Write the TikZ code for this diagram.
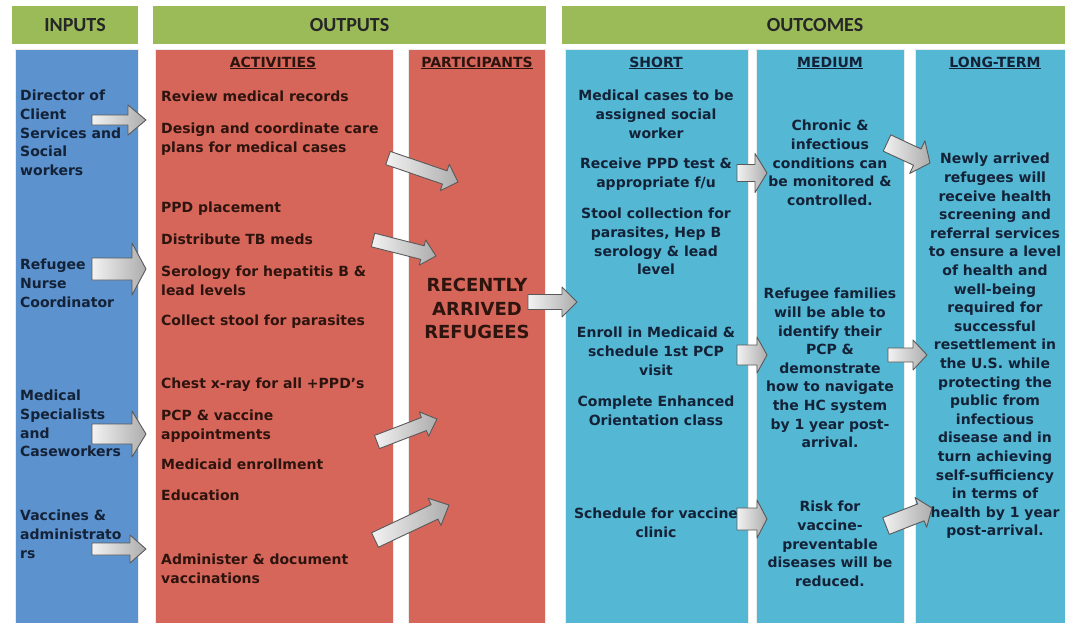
\documentclass[tikz,border=0pt]{standalone}
\usepackage{fontspec}
\setmainfont{DejaVu Sans}
\newfontfamily\hdfont{Carlito}
\usetikzlibrary{calc}

\definecolor{hdgreen}{RGB}{155,187,89}
\definecolor{inblue}{RGB}{92,146,206}
\definecolor{actred}{RGB}{214,102,90}
\definecolor{ocyan}{RGB}{84,183,211}
\definecolor{txtblue}{RGB}{20,34,56}
\definecolor{txtbrown}{RGB}{46,20,14}

% block arrow: tail, tip, shaft half width, head half width, head length
\newcommand{\blockarr}[5]{%
  \coordinate (hb) at ($(#2)!#5!(#1)$);
  \draw[barr] ($(#1)!#3!90:(#2)$) -- ($(hb)!#3!90:(#2)$) -- ($(hb)!#4!90:(#2)$) -- (#2)
    -- ($(hb)!#4!-90:(#2)$) -- ($(hb)!#3!-90:(#2)$) -- ($(#1)!#3!-90:(#2)$) -- cycle;
}

\begin{document}
\begin{tikzpicture}[x=1pt, y=-1pt,
  hdr/.style={fill=hdgreen, minimum height=38pt, inner sep=0pt,
    font=\hdfont\bfseries\fontsize{20}{24}\selectfont, text=black!85},
  colbox/.style={draw=black!8, line width=.8pt, anchor=north west, inner sep=0pt, minimum height=590pt},
  lbl/.style={font=\bfseries\fontsize{14}{18.6}\selectfont, inner sep=0pt},
  lt/.style={lbl, align=left, anchor=north west},
  ct/.style={lbl, align=center, anchor=north},
  barr/.style={draw=black!65, line width=.9pt, left color=gray!10, right color=gray!65, line join=round}]
\useasboundingbox (0,0) rectangle (1065,622);

% headers
\node[hdr, minimum width=126pt] (hin) at (75,25) {INPUTS};
\node[hdr, minimum width=393pt] (hout) at (349.5,25) {OUTPUTS};
\node[hdr, minimum width=506pt] (hoc) at (815,25) {OUTCOMES};

% columns
\node[colbox, fill=inblue, minimum width=123pt] (inputs) at (15,49) {};
\node[colbox, fill=actred, minimum width=238pt] (act) at (155,49) {};
\node[colbox, fill=actred, minimum width=137pt] (part) at (408,49) {};
\node[colbox, fill=ocyan, minimum width=183pt] (short) at (565,49) {};
\node[colbox, fill=ocyan, minimum width=148pt] (medium) at (756,49) {};
\node[colbox, fill=ocyan, minimum width=160pt] (long) at (915,49) {};

\node[lbl, text=txtbrown] (acth) at (273,63) {\underline{ACTIVITIES}};
\node[lbl, text=txtbrown] (parth) at (477,63) {\underline{PARTICIPANTS}};
\node[lbl, text=txtblue] (shorth) at (656,63) {\underline{SHORT}};
\node[lbl, text=txtblue] (medh) at (830,63) {\underline{MEDIUM}};
\node[lbl, text=txtblue] (longh) at (995,63) {\underline{LONG-TERM}};

% inputs
\node[lt, text=txtblue] (dir) at (20,90) {Director of\\Client\\Services and\\Social\\workers};
\node[lt, text=txtblue] (nurse) at (20,259) {Refugee\\Nurse\\Coordinator};
\node[lt, text=txtblue] (spec) at (20,390) {Medical\\Specialists\\and\\Caseworkers};
\node[lt, text=txtblue] (vacc) at (20,510) {Vaccines \&\\administrato\\rs};

% activities
\node[lt, text=txtbrown] (rev) at (161,91) {Review medical records};
\node[lt, text=txtbrown] (care) at (161,123) {Design and coordinate care\\plans for medical cases};
\node[lt, text=txtbrown] (ppd) at (161,202) {PPD placement};
\node[lt, text=txtbrown] (tb) at (161,234) {Distribute TB meds};
\node[lt, text=txtbrown] (sero) at (161,266) {Serology for hepatitis B \&\\lead levels};
\node[lt, text=txtbrown] (stool) at (161,315) {Collect stool for parasites};
\node[lt, text=txtbrown] (xray) at (161,378) {Chest x-ray for all +PPD's};
\node[lt, text=txtbrown] (pcp) at (161,410) {PCP \& vaccine\\appointments};
\node[lt, text=txtbrown] (mcd) at (161,459) {Medicaid enrollment};
\node[lt, text=txtbrown] (edu) at (161,490) {Education};
\node[lt, text=txtbrown] (adm) at (161,554) {Administer \& document\\vaccinations};

% participants
\node[lbl, align=center, anchor=north, text=txtbrown, font=\bfseries\fontsize{18}{23.5}\selectfont]
  (refs) at (477,278) {RECENTLY\\ARRIVED\\REFUGEES};

% short term
\node[ct, text=txtblue] (s1) at (656,90) {Medical cases to be\\assigned social\\worker};
\node[ct, text=txtblue] (s2) at (656,158) {Receive PPD test \&\\appropriate f/u};
\node[ct, text=txtblue] (s3) at (656,208) {Stool collection for\\parasites, Hep B\\serology \& lead\\level};
\node[ct, text=txtblue] (s4) at (656,327) {Enroll in Medicaid \&\\schedule 1st PCP\\visit};
\node[ct, text=txtblue] (s5) at (656,396) {Complete Enhanced\\Orientation class};
\node[ct, text=txtblue] (s6) at (656,508) {Schedule for vaccine\\clinic};

% medium term
\node[ct, text=txtblue] (m1) at (830,120) {Chronic \&\\infectious\\conditions can\\be monitored \&\\controlled.};
\node[ct, text=txtblue] (m2) at (830,288) {Refugee families\\will be able to\\identify their\\PCP \&\\demonstrate\\how to navigate\\the HC system\\by 1 year post-\\arrival.};
\node[ct, text=txtblue] (m3) at (830,501) {Risk for\\vaccine-\\preventable\\diseases will be\\reduced.};

% long term
\node[ct, text=txtblue] (l1) at (995,153) {Newly arrived\\refugees will\\receive health\\screening and\\referral services\\to ensure a level\\of health and\\well-being\\required for\\successful\\resettlement in\\the U.S. while\\protecting the\\public from\\infectious\\disease and in\\turn achieving\\self-sufficiency\\in terms of\\health by 1 year\\post-arrival.};

% arrows
\coordinate (a1) at (92,120);  \coordinate (b1) at (146,120);
\coordinate (a2) at (92,269);  \coordinate (b2) at (146,269);
\coordinate (a3) at (92,434);  \coordinate (b3) at (146,434);
\coordinate (a4) at (92,549);  \coordinate (b4) at (146,549);
\coordinate (a5) at (388,158); \coordinate (b5) at (458,182);
\coordinate (a6) at (373,240); \coordinate (b6) at (436,256);
\coordinate (a7) at (377,442); \coordinate (b7) at (437,419);
\coordinate (a8) at (375,540); \coordinate (b8) at (449,505);
\coordinate (a9) at (528,302); \coordinate (b9) at (577,302);
\coordinate (a10) at (737,173); \coordinate (b10) at (767,173);
\coordinate (a11) at (737,355); \coordinate (b11) at (767,355);
\coordinate (a12) at (737,519); \coordinate (b12) at (767,519);
\coordinate (a13) at (887,143); \coordinate (b13) at (930,163);
\coordinate (a14) at (888,355); \coordinate (b14) at (927,355);
\coordinate (a15) at (886,526); \coordinate (b15) at (932,508);

\blockarr{a1}{b1}{5pt}{15pt}{18pt}
\blockarr{a2}{b2}{11pt}{26pt}{14pt}
\blockarr{a3}{b3}{10pt}{23pt}{14pt}
\blockarr{a4}{b4}{6pt}{14pt}{16pt}
\blockarr{a5}{b5}{7pt}{14pt}{14pt}
\blockarr{a6}{b6}{7pt}{13pt}{14pt}
\blockarr{a7}{b7}{7pt}{13pt}{14pt}
\blockarr{a8}{b8}{8pt}{15pt}{16pt}
\blockarr{a9}{b9}{7.5pt}{15pt}{15pt}
\blockarr{a10}{b10}{8.5pt}{19.5pt}{12pt}
\blockarr{a11}{b11}{10pt}{18pt}{10pt}
\blockarr{a12}{b12}{11pt}{19pt}{10pt}
\blockarr{a13}{b13}{9pt}{18pt}{14pt}
\blockarr{a14}{b14}{7pt}{15pt}{14pt}
\blockarr{a15}{b15}{9pt}{16pt}{12pt}
\end{tikzpicture}
\end{document}
